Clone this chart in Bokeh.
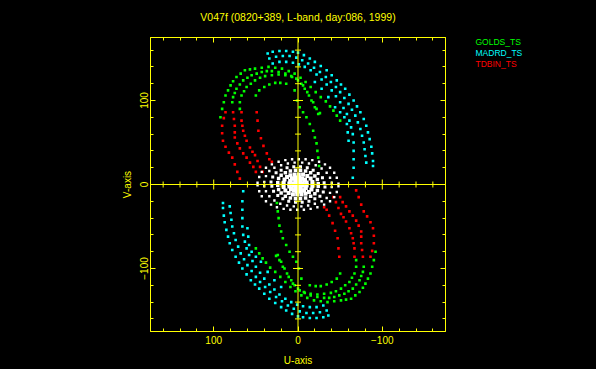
import numpy as np
from bokeh.plotting import figure
from bokeh.layouts import row
from bokeh.models import Range1d, LinearAxis, FixedTicker, Span
from bokeh.core.properties import value
from bokeh.embed import file_html
from bokeh.resources import INLINE

TITLE = "V047f (0820+389, L-band, day:086, 1999)"
STATIONS = ["GOLDS_TS", "MADRD_TS", "TDBIN_TS"]
X_LABEL = "U-axis"
Y_LABEL = "V-axis"
MAJOR_TICKS = [-100, 0, 100]
MINOR_TICKS = [-160, -140, -120, -80, -60, -40, -20, 20, 40, 60, 80, 120, 140, 160]
TICK_LABELS = {-100: "\u2212100", 0: "0", 100: "100"}

# ---- GOLDS_TS (upper half tracks, u, v in kilo-lambda) ----
GOLDS_A_U = [92, 90, 88, 86, 83, 80, 77, 73, 68, 63, 57, 51, 43, 35, 27, 19, 11, 4, -3, -9, -15, -21, -27, -33, -38, -42, -46, -50]
GOLDS_A_V = [80, 90, 98, 106, 112, 118, 123, 128, 132, 136, 137, 138, 139, 140, 139, 138, 135, 132, 127, 122, 116, 110, 104, 99, 93, 88, 82, 76]
GOLDS_B_U = [78, 77, 75, 73, 69, 65, 60, 55, 49, 43, 37, 31, 23, 15, 8, 2, -4, -8, -13, -18, -22, -26]
GOLDS_B_V = [98, 104, 109, 114, 119, 124, 127, 130, 132, 134, 135, 135, 134, 132, 129, 126, 120, 114, 106, 98, 90, 85]
GOLDS_C_U = [69, 69, 67, 64, 61, 56, 51, 45, 39, 31, 23, 15, 7, 0, -6, -11, -16, -20, -24]
GOLDS_C_V = [90, 98, 106, 111, 116, 120, 124, 127, 129, 130, 131, 130, 128, 124, 118, 110, 100, 92, 84]
GOLDS_D_U = [50, 46, 40, 34, 27, 21, 14]
GOLDS_D_V = [106, 112, 116, 119, 121, 121, 120]
GOLDS_E_U = [4, 1, -2, -6, -10, -14, -18, -20, -22, -23, -24, -25]
GOLDS_E_V = [112, 100, 92, 86, 80, 72, 64, 56, 49, 40, 32, 22]

# ---- MADRD_TS ----
MADRD_A_U = [36, 30, 22, 14, 6, 0, -7, -14, -20, -27, -34, -40, -46, -51, -56, -61, -66, -70, -74, -78, -81, -83, -85, -87, -88, -89, -89]
MADRD_A_V = [156, 158, 159, 159, 158, 157, 154, 150, 146, 141, 136, 130, 124, 119, 114, 107, 100, 93, 86, 78, 70, 62, 54, 45, 37, 28, 22]
MADRD_B_U = [34, 26, 18, 10, 2, -5, -12, -19, -26, -33, -39, -45, -50, -55, -60, -64, -68, -71, -74, -76, -78, -79, -80, -81]
MADRD_B_V = [150, 152, 153, 153, 151, 148, 144, 139, 134, 128, 122, 116, 110, 103, 96, 89, 82, 74, 66, 58, 50, 42, 34, 26]
MADRD_C_U = [30, 22, 14, 6, -1, -8, -15, -22, -28, -34, -40, -45, -50, -54, -58, -61, -63, -65, -66, -66, -66, -66, -65]
MADRD_C_V = [144, 146, 146, 145, 143, 140, 136, 131, 125, 119, 112, 105, 98, 91, 84, 76, 68, 60, 50, 40, 30, 20, 8]
MADRD_D_U = [-20, -28, -36, -44, -50, -55, -58, -59, -60]
MADRD_D_V = [122, 114, 104, 92, 86, 80, 72, 62, 52]

# ---- TDBIN_TS ----
TDBIN_A_U = [86, 88, 90, 90, 89, 86, 82, 78, 75, 72, 69]
TDBIN_A_V = [86, 79, 70, 61, 52, 45, 38, 32, 24, 15, 7]
TDBIN_B_U = [77, 76, 75, 75, 75, 72, 69, 65, 61, 57, 53, 50]
TDBIN_B_V = [86, 78, 70, 62, 56, 49, 43, 37, 32, 26, 21, 15]
TDBIN_C_U = [67, 67, 66, 65, 63, 61, 57, 54, 51, 48, 45, 42]
TDBIN_C_V = [86, 76, 70, 64, 58, 52, 44, 39, 35, 28, 21, 15]
TDBIN_D_U = [49, 48, 47, 44, 41, 37, 34, 31]
TDBIN_D_V = [86, 76, 64, 55, 46, 37, 30, 27]

# ---- short baselines (white, central) ----
WHITE_A_U = [48, 46, 43, 38, 31, 23, 15, 7, -1, -9, -17, -25, -32, -38, -43, -46, -48]
WHITE_A_V = [2, 9, 15, 20, 24, 27, 29, 30, 30, 30, 29, 27, 24, 20, 14, 8, 1]
WHITE_B_U = [40, 38, 34, 28, 20, 12, 4, -5, -13, -21, -28, -34, -38, -40]
WHITE_B_V = [3, 10, 16, 20, 23, 25, 26, 26, 25, 23, 19, 14, 8, 2]
WHITE_C_U = [32, 30, 26, 20, 13, 5, -3, -11, -18, -24, -29, -31]
WHITE_C_V = [3, 9, 14, 17, 20, 21, 21, 20, 17, 13, 8, 2]
WHITE_D_U = [24, 23, 20, 15, 9, 3, -3, -9, -15, -20, -23, -24]
WHITE_D_V = [2, 7, 11, 14, 16, 17, 17, 16, 14, 10, 6, 1]
WHITE_E_U = [17, 16, 13, 9, 4, -1, -6, -11, -15, -17]
WHITE_E_V = [2, 6, 9, 11, 12, 12, 12, 10, 7, 3]
WHITE_F_U = [10, 9, 7, 3, -1, -5, -8, -10, 5, 3, 0, -3, -5, 2, -1]
WHITE_F_V = [1, 4, 7, 8, 8, 7, 5, 2, 1, 3, 4, 3, 1, 1, 2]

YEL = "#ffff00"
FONT = "Liberation Sans"
colors = {"GOLDS_TS": "#00ff00", "MADRD_TS": "#00ffff", "TDBIN_TS": "#ff0000"}

p = figure(width=465, height=369,
           x_range=Range1d(175, -175), y_range=Range1d(-175, 175),
           output_backend="svg", toolbar_location=None,
           x_axis_location=None, y_axis_location=None,
           min_border_left=150, min_border_right=20,
           min_border_top=37, min_border_bottom=38,
           background_fill_color="black", border_fill_color="black",
           outline_line_color=YEL, outline_line_width=1)
p.grid.visible = False


def make_axis(show_labels, label=None, label_size="10px"):
    ax = LinearAxis(ticker=FixedTicker(ticks=MAJOR_TICKS, minor_ticks=MINOR_TICKS))
    ax.axis_line_color = YEL
    ax.major_tick_line_color = YEL
    ax.minor_tick_line_color = YEL
    ax.major_tick_in = 5
    ax.major_tick_out = 0
    ax.minor_tick_in = 3
    ax.minor_tick_out = 0
    ax.major_label_overrides = TICK_LABELS
    ax.major_label_text_font = FONT
    if show_labels:
        ax.major_label_text_font_size = "10px"
        ax.major_label_text_color = YEL
    else:
        ax.major_label_text_font_size = "0px"
        ax.major_label_standoff = 0
        ax.major_label_text_color = None
    if label:
        ax.axis_label = label
        ax.axis_label_text_color = YEL
        ax.axis_label_text_font = FONT
        ax.axis_label_text_font_size = label_size
        ax.axis_label_text_font_style = "normal"
    return ax


xb = make_axis(True, X_LABEL)
xb.major_label_standoff = 4
xb.axis_label_standoff = 8
p.add_layout(xb, "below")
yl = make_axis(True, Y_LABEL)
yl.major_label_orientation = "vertical"
yl.major_label_standoff = 3
yl.axis_label_standoff = 4
p.add_layout(yl, "left")
xt = make_axis(False, TITLE, "10.5px")   # the plot title sits on the top frame axis
xt.axis_label_standoff = 15
p.add_layout(xt, "above")
p.add_layout(make_axis(False), "right")

tracks = {
    "MADRD_TS": [(MADRD_A_U, MADRD_A_V), (MADRD_B_U, MADRD_B_V), (MADRD_C_U, MADRD_C_V), (MADRD_D_U, MADRD_D_V)],
    "GOLDS_TS": [(GOLDS_A_U, GOLDS_A_V), (GOLDS_B_U, GOLDS_B_V), (GOLDS_C_U, GOLDS_C_V),
                 (GOLDS_D_U, GOLDS_D_V), (GOLDS_E_U, GOLDS_E_V)],
    "TDBIN_TS": [(TDBIN_A_U, TDBIN_A_V), (TDBIN_B_U, TDBIN_B_V), (TDBIN_C_U, TDBIN_C_V), (TDBIN_D_U, TDBIN_D_V)],
}
for st in ["MADRD_TS", "TDBIN_TS", "GOLDS_TS"]:
    for u, v in tracks[st]:
        u = np.array(u, dtype=float)
        v = np.array(v, dtype=float)
        p.scatter(np.concatenate([u, -u]), np.concatenate([v, -v]), marker="square",
                  size=2.6, fill_color=colors[st], line_color=None)

white = [(WHITE_A_U, WHITE_A_V, 2.4), (WHITE_B_U, WHITE_B_V, 2.4), (WHITE_C_U, WHITE_C_V, 3),
         (WHITE_D_U, WHITE_D_V, 3.5), (WHITE_E_U, WHITE_E_V, 4), (WHITE_F_U, WHITE_F_V, 4.5)]
for u, v, s in white:
    u = np.array(u, dtype=float)
    v = np.array(v, dtype=float)
    p.scatter(np.concatenate([u, -u]), np.concatenate([v, -v]), marker="square",
              size=s, fill_color="white", line_color=None)

# central cross-hair with ticks
p.add_layout(Span(location=0, dimension="height", line_color=YEL, line_width=1))
p.add_layout(Span(location=0, dimension="width", line_color=YEL, line_width=1))
mt = np.array(MINOR_TICKS, dtype=float)
Mt = np.array([t for t in MAJOR_TICKS if t != 0], dtype=float)
p.scatter(np.zeros_like(mt), mt, marker="dash", size=6, line_color=YEL, line_width=1)
p.scatter(np.zeros_like(Mt), Mt, marker="dash", size=10, line_color=YEL, line_width=1)
p.scatter(mt, np.zeros_like(mt), marker="dash", angle=np.pi / 2, size=6, line_color=YEL, line_width=1)
p.scatter(Mt, np.zeros_like(Mt), marker="dash", angle=np.pi / 2, size=10, line_color=YEL, line_width=1)

# station key, in its own panel to the right (page-pixel coordinates; frame aligned with p)
q = figure(width=131, height=369, x_range=Range1d(465, 596), y_range=Range1d(331, 37),
           output_backend="svg", toolbar_location=None,
           x_axis_location=None, y_axis_location=None,
           min_border_left=0, min_border_right=0, min_border_top=37, min_border_bottom=38,
           background_fill_color="black", border_fill_color="black")
q.outline_line_color = None
q.outline_line_alpha = 0
q.grid.visible = False
q.text(x=[475, 475, 475], y=[41.7, 52.5, 63.3], text=STATIONS,
       text_color=[colors[s] for s in STATIONS], text_font=value(FONT),
       text_font_size=value("8.5px"), text_baseline="middle", text_align="left")

layout = row(p, q, spacing=0)
layout.styles = {"background-color": "black"}
open("out.html", "w").write(file_html(layout, INLINE))
